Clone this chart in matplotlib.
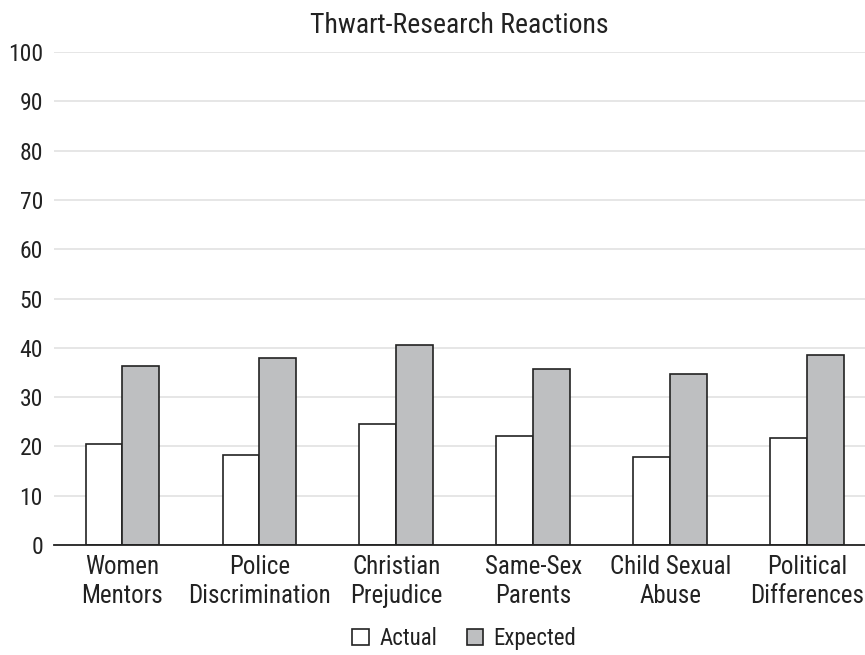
import numpy as np
import matplotlib.pyplot as plt
from matplotlib import font_manager

categories = ['Women\nMentors', 'Police\nDiscrimination', 'Christian\nPrejudice',
              'Same-Sex\nParents', 'Child Sexual\nAbuse', 'Political\nDifferences']
actual = [20.5, 18.2, 24.5, 22.2, 17.8, 21.8]
expected = [36.3, 38.0, 40.5, 35.6, 34.7, 38.6]

names = {f.name for f in font_manager.fontManager.ttflist}
fam = 'Roboto Condensed' if 'Roboto Condensed' in names else 'Roboto'
plt.rcParams['font.family'] = [fam, 'DejaVu Sans']

fig = plt.figure(figsize=(8.65, 6.55), dpi=100)
ax = fig.add_axes([54 / 865, 110 / 655, 1 - 54 / 865, 493 / 655])

x = np.arange(len(categories))
w = 0.27
ax.bar(x - w / 2, actual, w, color='white', edgecolor='#222222', linewidth=1.2,
       label='Actual', zorder=3)
ax.bar(x + w / 2, expected, w, color='#bebfc1', edgecolor='#222222', linewidth=1.2,
       label='Expected', zorder=3)

ax.set_xlim(-0.5, 5.42)
ax.set_ylim(0, 100)
ax.set_yticks(range(0, 101, 10))
ax.yaxis.grid(True, color='#e2e2e2', linewidth=1.2, zorder=0)
ax.set_xticks(x)
ax.set_xticklabels(categories, fontsize=18, color='#222222', linespacing=1.3)
ax.tick_params(axis='y', length=0, labelsize=17, labelcolor='#222222', pad=8)
ax.tick_params(axis='x', length=0, pad=7)
for s in ['top', 'right', 'left']:
    ax.spines[s].set_visible(False)
ax.spines['bottom'].set_color('#222222')
ax.spines['bottom'].set_linewidth(1.3)
ax.spines['bottom'].set_zorder(4)

ax.set_title('Thwart-Research Reactions', fontsize=20, color='#222222', pad=14)

ax.legend(loc='center', bbox_to_anchor=(0.506, -0.19), ncol=2, frameon=False,
          fontsize=16.5, handlelength=0.72, handleheight=0.72, handletextpad=0.45,
          columnspacing=1.3, labelcolor='#222222')

fig.savefig('out.png', dpi=100)
